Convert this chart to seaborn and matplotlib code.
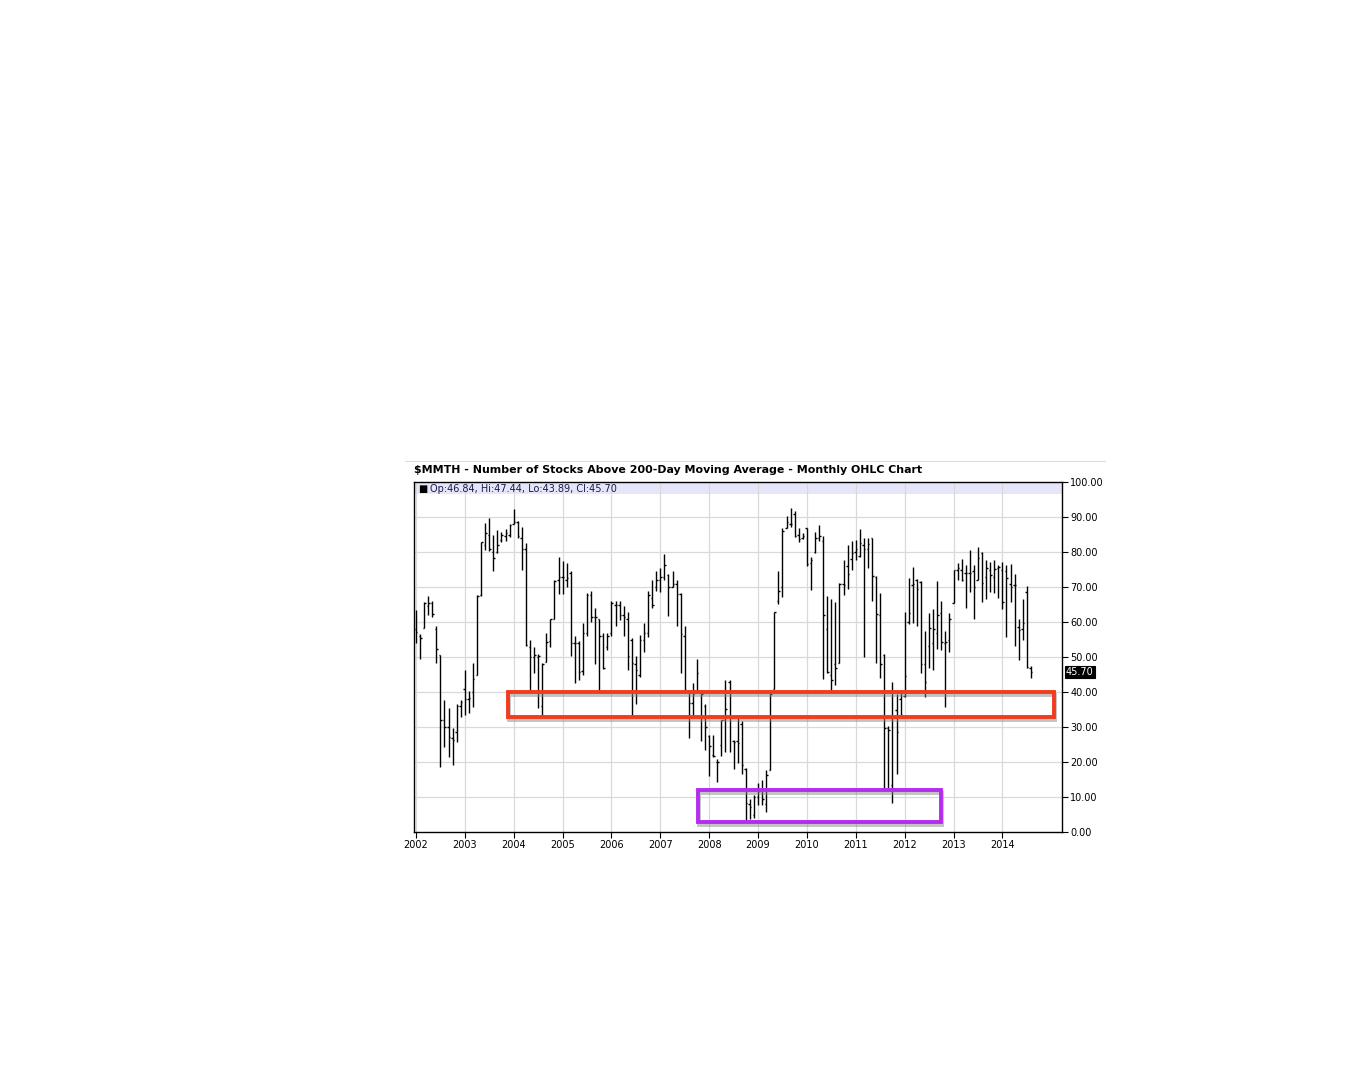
import numpy as np
import matplotlib
matplotlib.use('Agg')
import matplotlib.pyplot as plt
import matplotlib.patheffects as pe
from matplotlib.patches import Rectangle
from matplotlib.lines import Line2D
import pandas as pd
import seaborn as sns

# =========================
# DATA  (monthly OHLC, Jan 2002 - Aug 2014)
# =========================
opens = [
    58, 56, 58.2, 64.5, 65.5, 58, 50.6, 32, 30, 27, 28.7, 36,            # 2002
    40.8, 38, 40, 45, 67.7, 82, 85, 80, 80, 83.5, 84.5, 85,              # 2003
    88, 88.5, 84, 81, 53, 50, 50, 36, 48.7, 54.5, 61, 72,                # 2004
    73, 72, 74, 54, 54, 46, 57, 67.7, 61.5, 61, 56, 53,                  # 2005
    57, 65, 65, 62, 61, 55, 48, 45, 55, 57, 67, 70,                      # 2006
    72, 73, 73.5, 70, 71, 68, 56, 40, 37, 40, 40, 36,                    # 2007
    27.5, 22, 20, 25, 32, 43, 26, 26, 31, 18, 8, 5,                      # 2008
    10, 12, 8, 17.7, 41, 66, 70, 87, 88, 91, 85, 84,                     # 2009
    87, 77, 80, 84, 83.2, 58, 45, 48, 48.4, 71, 76, 78,                  # 2010
    80, 79, 82, 81, 84, 73, 62, 50.5, 29.6, 13.4, 35, 38,                # 2011
    39, 60, 70.5, 72, 71.5, 48, 53.1, 54, 57, 62.5, 54, 55,              # 2012
    65.5, 75, 75, 74, 74, 74.5, 72, 79.8, 73, 75, 73, 75.5,              # 2013
    75, 74.5, 71, 70.5, 58.7, 58, 68.7, 46.84,                           # 2014
]
highs = [
    63.4, 56.6, 65.8, 67.4, 66.1, 58.9, 50.6, 37.7, 35.3, 29.6, 36.6, 37.7,
    46.3, 40.2, 48.4, 67.7, 83, 88.4, 89.6, 84.9, 86.3, 85.8, 86.5, 88,
    92.2, 89, 87.2, 82.7, 55, 53, 51, 48.2, 57, 61, 72, 78.5,
    77.5, 77, 74.7, 56, 54.7, 59.6, 68.2, 69, 64, 61, 56.8, 57,
    66, 66, 66, 64.5, 63, 55.3, 50.3, 56.3, 59.6, 68.8, 71.9, 74.6,
    75.5, 79.3, 73.7, 74.7, 71.9, 68.4, 59, 40.5, 42.6, 49.3, 40.5, 36.5,
    27.8, 27.7, 21, 32, 43.4, 43.4, 26.3, 33.5, 31.8, 18.2, 9.3, 10.6,
    13.9, 15, 17.7, 39.6, 63, 74.7, 87, 90.3, 92.5, 91.8, 87, 85.5,
    87, 78.5, 85.8, 87.7, 84.6, 67.4, 66.5, 65.8, 71.2, 77.7, 82, 83.2,
    83.4, 86.5, 84, 84, 84, 73.2, 68.2, 51, 30.3, 42.9, 39.4, 39.6,
    63, 72.7, 75.6, 72.2, 71.8, 57.5, 62.5, 63.6, 71.6, 66.1, 57.5, 62.5,
    75, 76.8, 77.9, 76.3, 80.6, 76.3, 81.3, 80.1, 77.7, 77.2, 77.7, 76.3,
    77.2, 76.3, 76.6, 73.7, 61, 66.5, 70.3, 47.44,
]
lows = [
    54.1, 49.3, 58.2, 62, 61.5, 48.2, 18.5, 24.4, 21.5, 19.1, 25.8, 32.8,
    33.4, 33.9, 35.8, 44.9, 67.5, 80.6, 80.4, 74.7, 79.8, 83, 83.2, 84.4,
    87.9, 83.9, 75, 53.1, 40, 45.5, 35.3, 33, 48.5, 53, 61, 68,
    68, 70, 50.3, 42.5, 43.4, 45, 56, 60, 48, 40, 46.5, 52,
    56, 59, 60.5, 56, 46.3, 33.1, 36.5, 44.4, 51.5, 55.8, 64, 69,
    68.6, 71.9, 61.7, 70, 58.8, 45.3, 40, 27, 33, 39.8, 26, 23.5,
    16.1, 21.5, 14.4, 21.7, 23, 23, 18, 19.8, 16.6, 3, 3.6, 3.9,
    7.7, 7.7, 5.8, 17.7, 41, 65.1, 67.2, 87, 87.2, 84.4, 83, 83.6,
    76, 69.1, 79.6, 83.2, 43.8, 45.5, 40.4, 42, 48.4, 67.7, 69.3, 74.9,
    77.7, 78.5, 50, 75.3, 66.1, 48.4, 44, 12.2, 12.2, 8.4, 16.5, 33,
    38.7, 59.4, 59.6, 58.8, 45.5, 38.7, 46.8, 46.3, 52.2, 52, 35.8, 51.5,
    65.5, 72, 71.6, 63.9, 68.7, 61, 72, 65.8, 66.5, 68.7, 68.4, 66.8,
    63.7, 55.6, 65.7, 53.1, 49.1, 55, 46.8, 43.89,
]
closes = [
    57.2, 55.3, 65.3, 65.5, 62.3, 52.2, 32, 30.1, 27.2, 26.3, 36, 37.2,
    37.9, 38.2, 43.7, 67.5, 82.9, 85.3, 81, 78.2, 82, 85, 85.5, 87.6,
    88.5, 84.5, 81, 53.3, 50, 50.5, 50.3, 48, 54.4, 60.8, 71.8, 73,
    73, 72.5, 54, 54, 45.8, 56.8, 67.7, 61.5, 61.5, 56, 46.8, 56,
    65.5, 65, 62, 61.5, 50.3, 48.4, 46.3, 55, 57, 67.7, 65, 72,
    73, 76.2, 70, 71, 68, 56.5, 40.5, 36.9, 39.5, 45.3, 39.4, 30,
    24.6, 21.7, 20, 32, 35.2, 33, 25.8, 25.5, 19.1, 8.2, 7.2, 10,
    11.6, 9.4, 16.4, 39.5, 63, 69, 86, 88.6, 88, 84.6, 83.8, 84.6,
    76.5, 77.6, 83.9, 84.6, 61.9, 45.8, 43.4, 47, 71, 70.5, 73.6, 79.6,
    80.9, 82.6, 81, 82.4, 73.2, 62.4, 47.9, 29.6, 29.1, 12.4, 28.7, 33.4,
    44.5, 62.5, 71, 69.3, 48.1, 42.9, 58.2, 58, 62, 54.3, 54.3, 60.8,
    74.8, 75.5, 72, 74, 74, 70, 78.2, 71.2, 75.5, 73.4, 75.2, 75.8,
    65.8, 72.5, 69.9, 70.5, 57.8, 59.8, 47.1, 45.70,
]
years = list(range(2002, 2015))
yticks = [0, 10, 20, 30, 40, 50, 60, 70, 80, 90, 100]

title = '$MMTH - Number of Stocks Above 200-Day Moving Average - Monthly OHLC Chart'
legend_text = 'Op:46.84, Hi:47.44, Lo:43.89, Cl:45.70'
last_label = '45.70'

# highlighted boxes (fractional year, value)
red_box = (2003.885, 32.9, 2015.05, 40.0)
purple_box = (2007.77, 2.9, 2012.74, 12.0)

# =========================
# PREP
# =========================
dates = pd.date_range('2002-01-01', periods=len(opens), freq='MS')
df = pd.DataFrame({'date': dates, 'open': opens, 'high': highs,
                   'low': lows, 'close': closes})
df['t'] = df['date'].dt.year + (df['date'].dt.month - 1) / 12.0

# =========================
# PLOTTING SETUP
# =========================
sns.set_theme('paper')
sns.set_style('white')
plt.rcParams['font.family'] = ['DejaVu Sans']

fig = plt.figure(figsize=(13.46, 10.70), dpi=100)
ax = fig.add_axes([0.3076, 0.2224, 0.4814, 0.3271])

# header band
ax.axhspan(96.6, 100, color='#e6e6fa', zorder=0, lw=0)

# grid
for y in yticks[1:-1]:
    ax.axhline(y, color='#d9d9d9', lw=0.9, zorder=1)
for yr in years:
    ax.axvline(yr, color='#d9d9d9', lw=0.9, zorder=1)

# OHLC bars
tick_w = 0.03
ax.vlines(df['t'], df['low'], df['high'], color='black', lw=1.0, zorder=3)
ax.hlines(df['open'], df['t'] - tick_w, df['t'], color='black', lw=1.0, zorder=3)
ax.hlines(df['close'], df['t'], df['t'] + tick_w, color='black', lw=1.0, zorder=3)

# highlight boxes
for (x0, y0, x1, y1), col in [(red_box, '#f23c1e'), (purple_box, '#b52cf0')]:
    r = Rectangle((x0, y0), x1 - x0, y1 - y0, fill=False, edgecolor=col,
                  lw=2.8, zorder=4,
                  path_effects=[pe.SimpleLineShadow(offset=(1, -2),
                                                    shadow_color='#888888', alpha=0.5),
                                pe.Normal()])
    ax.add_patch(r)

ax.set_xlim(2001.96, 2015.22)
ax.set_ylim(0, 100)

# axes styling
ax.yaxis.tick_right()
ax.set_yticks(yticks)
ax.set_yticklabels([f'{v:.2f}' for v in yticks])
ax.set_xticks(years)
ax.set_xticklabels([str(y) for y in years])
ax.tick_params(axis='both', which='both', direction='out', length=4,
               width=0.8, color='black', labelsize=7.0, pad=2,
               labelcolor='black')
ax.tick_params(axis='y', right=True, left=False)
ax.tick_params(axis='x', bottom=True)
for s in ax.spines.values():
    s.set_color('black')
    s.set_linewidth(1.0)

# legend line inside header
ax.text(0.006, 0.981, '\u25a0', transform=ax.transAxes, fontsize=7,
        va='center', ha='left', color='black')
ax.text(0.025, 0.981, legend_text, transform=ax.transAxes, fontsize=7,
        va='center', ha='left', color='#1a1a4a')

# last value marker on the right axis
ax.text(1.006, closes[-1], last_label, transform=ax.get_yaxis_transform(),
        fontsize=7.0, va='center', ha='left', color='white',
        bbox=dict(boxstyle='square,pad=0.12', fc='black', ec='black'))

# title and separator line
fig.text(0.3076, 0.5607, title, fontsize=7.9, fontweight='bold',
         ha='left', va='center', color='black')
fig.add_artist(Line2D([0.3009, 0.821], [0.5692, 0.5692], color='#dddddd', lw=0.8))

fig.savefig('out.png', dpi=100, facecolor='white')
